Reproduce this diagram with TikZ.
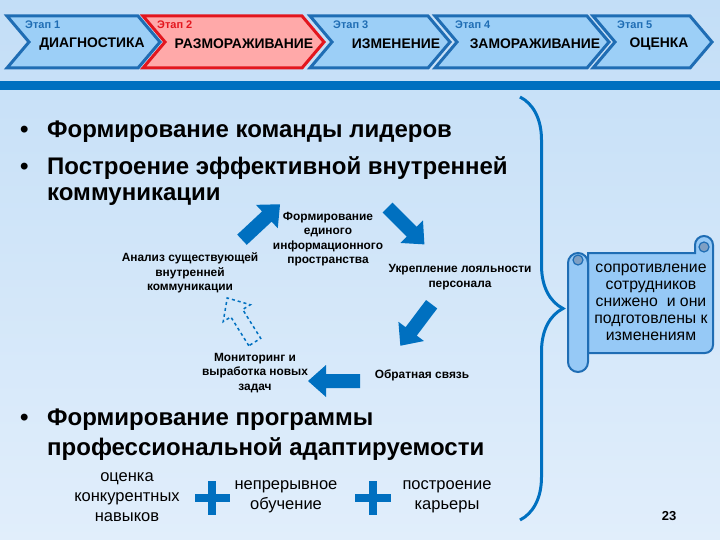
\documentclass[tikz,border=0pt]{standalone}
\usepackage{fontspec}
\setmainfont{Liberation Sans}
\usepackage{tikz}
\usetikzlibrary{arrows.meta,positioning,calc,decorations.pathreplacing}
\definecolor{bgtop}{HTML}{C3DEF7}
\definecolor{bgbot}{HTML}{E1EEFB}
\definecolor{ocean}{HTML}{0070C0}
\definecolor{stageblue}{HTML}{1F6DB4}
\definecolor{stagefill}{HTML}{9CCFF7}
\definecolor{stagered}{HTML}{E3161E}
\definecolor{stagepink}{HTML}{FFA9A9}
\definecolor{scrollfill}{HTML}{96C9F6}
\definecolor{curlgray}{HTML}{7E9FC3}
\tikzset{
  chevron/.style 2 args={
    draw=#1, fill=#2, line width=3pt, line join=miter
  },
  stagetag/.style={
    font=\fontsize{11}{13}\selectfont\bfseries, anchor=west, inner sep=0pt
  },
  stagename/.style={
    font=\fontsize{13.9}{15}\selectfont\bfseries, inner sep=0pt
  },
  bulletline/.style={
    font=\fontsize{24}{28}\selectfont\bfseries, anchor=base west, inner sep=0pt
  },
  cyctext/.style={
    font=\fontsize{11.9}{14.5}\selectfont\bfseries, align=center, inner sep=0pt
  },
  pluslabel/.style={
    font=\fontsize{16.5}{20}\selectfont, align=center, inner sep=0pt
  },
  scrolltext/.style={
    font=\fontsize{15.8}{17}\selectfont, align=center, inner sep=0pt
  },
  scrollpart/.style={
    draw=stageblue, fill=scrollfill, line width=2pt
  },
  blockfill/.style={fill=ocean},
  blockghost/.style={draw=ocean, dashed, line width=1.5pt},
  plusbar/.style={draw=ocean, line width=8pt},
  bigbrace/.style={
    decorate, decoration={brace, amplitude=43pt}, draw=ocean, line width=3pt
  },
  % ── block arrow, pointing along +x ──
  pics/blockarrow/.style={code={
    \path[pic actions] (-26,-7) -- (8,-7) -- (8,-16) -- (26,0)
      -- (8,16) -- (8,7) -- (-26,7) -- cycle;
  }},
}

\begin{document}
\begin{tikzpicture}[x=1pt, y=-1pt]
  \useasboundingbox (0,0) rectangle (720,540);
  \shade[top color=bgtop, bottom color=bgbot] (0,0) rectangle (720,540);

  % Stage chevrons
  \foreach \l/\r/\clr/\fil/\tx/\nx/\name [count=\i] in {
      7/138/stageblue/stagefill/25/92/ДИАГНОСТИКА,
      143/302/stagered/stagepink/157/244/РАЗМОРАЖИВАНИЕ,
      310/428/stageblue/stagefill/333/396/ИЗМЕНЕНИЕ,
      435/587/stageblue/stagefill/455/535/ЗАМОРАЖИВАНИЕ,
      593/690/stageblue/stagefill/617/659/ОЦЕНКА}
  {
    \draw[chevron={\clr}{\fil}] (\l,16) -- (\r,16) -- ++(22,26) -- (\r,68)
      -- (\l,68) -- ++(22,-26) -- cycle;
    \node[stagetag, text=\clr] (tag\i) at (\tx,25) {Этап \i};
    \node[stagename] (stage\i) at (\nx,44) {\name};
  }

  \fill[ocean] (0,81) rectangle (720,90);

  % Bullets
  \node[bulletline] (dot1) at (20,138) {•};
  \node[bulletline] (lead) at (47,138) {Формирование команды лидеров};
  \node[bulletline] (dot2) at (20,175) {•};
  \node[bulletline] (comm) at (47,175) {Построение эффективной внутренней};
  \node[bulletline] (comm2) at (47,201) {коммуникации};
  \node[bulletline] (dot3) at (20,425) {•};
  \node[bulletline] (prog) at (47,425) {Формирование программы};
  \node[bulletline] (prog2) at (47,455) {профессиональной адаптируемости};

  % Communication cycle
  \node[cyctext] (space) at (328,239) {Формирование\\единого\\информационного\\пространства};
  \node[cyctext] (loyal) at (460,277) {Укрепление лояльности\\персонала};
  \node[cyctext] (fback) at (422,375) {Обратная связь};
  \node[cyctext] (monit) at (255,373) {Мониторинг и\\выработка новых\\задач};
  \node[cyctext] (audit) at (190,273) {Анализ существующей\\внутренней\\коммуникации};

  \pic[blockfill, rotate=43] (arw1) at (261,222) {blockarrow};
  \pic[blockfill, rotate=-45] (arw2) at (406,226) {blockarrow};
  \pic[blockfill, rotate=233] (arw3) at (416,325) {blockarrow};
  \pic[blockfill, rotate=180] (arw4) at (334,381) {blockarrow};
  \pic[blockghost, rotate=122] (arw5) at (241,320) {blockarrow};

  % Program items
  \node[pluslabel] (skills) at (127,497) {оценка\\конкурентных\\навыков};
  \node[pluslabel] (learn) at (286,497) {непрерывное\\обучение};
  \node[pluslabel] (career) at (447,497) {построение\\карьеры};
  \draw[plusbar] (195,498) -- (230,498) (212,481) -- (212,515);
  \draw[plusbar] (355,498) -- (391,498) (373,481) -- (373,515);

  % Brace and scroll
  \draw[bigbrace] (520,97) -- (520,520);

  \filldraw[scrollpart] (588,253) -- (695,253) -- (695,245)
    arc[start angle=180, end angle=0, radius=9pt] -- (713,345)
    arc[start angle=0, end angle=-90, radius=8pt] -- (588,353) -- cycle;
  \filldraw[curlgray, draw=stageblue, line width=1.2pt] (704,247) circle[radius=5pt];
  \filldraw[scrollpart, rounded corners=10pt] (568,253) rectangle (588,372);
  \filldraw[curlgray, draw=stageblue, line width=1.2pt] (578,260) circle[radius=5pt];
  \node[scrolltext] (result) at (651,302) {сопротивление\\сотрудников\\снижено\ \ и они\\подготовлены к\\изменениям};

  \node[font=\fontsize{13}{15}\selectfont\bfseries] (pageno) at (669,516) {23};
\end{tikzpicture}
\end{document}
